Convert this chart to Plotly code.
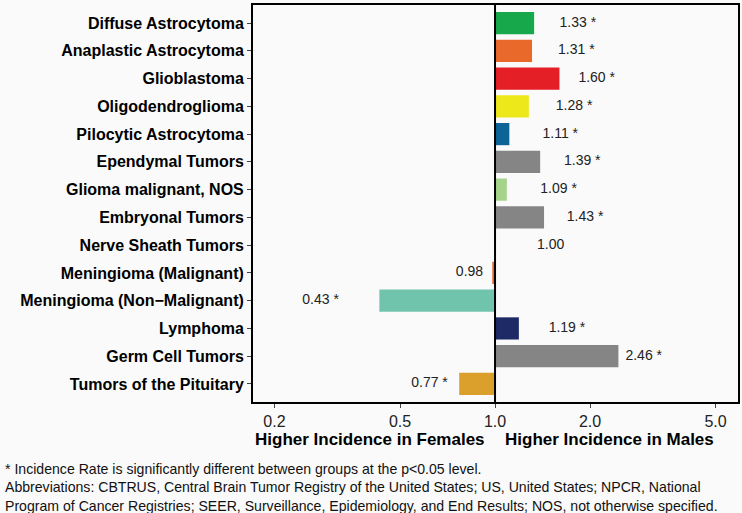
import plotly.graph_objects as go

categories = ["Diffuse Astrocytoma", "Anaplastic Astrocytoma", "Glioblastoma",
              "Oligodendroglioma", "Pilocytic Astrocytoma", "Ependymal Tumors",
              "Glioma malignant, NOS", "Embryonal Tumors", "Nerve Sheath Tumors",
              "Meningioma (Malignant)", "Meningioma (Non\u2212Malignant)", "Lymphoma",
              "Germ Cell Tumors", "Tumors of the Pituitary"]
ratios = [1.33, 1.31, 1.60, 1.28, 1.11, 1.39, 1.09, 1.43, 1.00, 0.98, 0.43, 1.19, 2.46, 0.77]
significant = [True, True, True, True, True, True, True, True, False, False, True, True, True, True]
colors = ["#17a84b", "#e8692a", "#e41f26", "#ece81a", "#0b6396", "#858585", "#a5d38a",
          "#858585", "#858585", "#e8692a", "#6fc4ab", "#1d2a66", "#858585", "#dba02b"]
tick_vals = [0.2, 0.5, 1.0, 2.0, 5.0]
tick_text = ["0.2", "0.5", "1.0", "2.0", "5.0"]

FONT = "Liberation Sans, Arial, sans-serif"
W, H = 742, 513
ML, MR, MT, MB = 253, 4, 5, 111
PW, PH = W - ML - MR, H - MT - MB

labels = [f"{v:.2f} *" if s else f"{v:.2f}" for v, s in zip(ratios, significant)]
label_x = [v + 0.5 if v >= 1 else v - 0.15 for v in ratios]

fig = go.Figure()
fig.add_trace(go.Bar(
    y=categories, x=[v - 1 for v in ratios], base=[1] * len(ratios),
    orientation="h", marker=dict(color=colors, line=dict(width=0)),
    width=0.8, hoverinfo="skip", showlegend=False))
fig.add_trace(go.Scatter(
    y=categories, x=label_x, mode="text", text=labels,
    textposition="middle center", textfont=dict(family=FONT, size=14, color="#222222"),
    hoverinfo="skip", showlegend=False))

fig.add_shape(type="line", xref="x", yref="paper", x0=1, x1=1, y0=0, y1=1,
              line=dict(color="black", width=2))

def py(pix):
    return (H - MB - pix) / PH

def px(pix):
    return (pix - ML) / PW

annotations = [
    dict(text="<b>Higher Incidence in Females</b>", xref="x", x=0, xanchor="right", xshift=-8,
         yref="paper", y=py(440), yanchor="middle", showarrow=False,
         font=dict(family=FONT, size=17, color="black")),
    dict(text="<b>Higher Incidence in Males</b>", xref="x", x=0, xanchor="left", xshift=8,
         yref="paper", y=py(440), yanchor="middle", showarrow=False,
         font=dict(family=FONT, size=17, color="black")),
]
foot = ["* Incidence Rate is significantly different between groups at the p<0.05 level.",
        "Abbreviations: CBTRUS, Central Brain Tumor Registry of the United States; US, United States; NPCR, National",
        "Program of Cancer Registries; SEER, Surveillance, Epidemiology, and End Results; NOS, not otherwise specified."]
for t, yy in zip(foot, [468.5, 487, 505.5]):
    annotations.append(dict(text=t, xref="paper", x=px(3), xanchor="left", yref="paper",
                            y=py(yy), yanchor="middle", showarrow=False,
                            font=dict(family=FONT, size=14.1, color="#111111")))

fig.update_layout(
    width=W, height=H, margin=dict(l=ML, r=MR, t=MT, b=MB),
    paper_bgcolor="#fafafa", plot_bgcolor="#fafafa",
    bargap=0.2, annotations=annotations,
    xaxis=dict(type="log", range=[-0.767, 0.77], tickvals=tick_vals, ticktext=tick_text,
               showgrid=False, zeroline=False, showline=True, mirror=True, automargin=False,
               linecolor="black", linewidth=2, ticks="outside", ticklen=4,
               tickcolor="#444", tickfont=dict(family=FONT, size=16, color="#222")),
    yaxis=dict(categoryorder="array", categoryarray=categories, range=[13.65, -0.65],
               showgrid=False, zeroline=False, showline=True, mirror=True, automargin=False,
               linecolor="black", linewidth=2, ticks="outside", ticklen=4,
               tickcolor="#444",
               tickfont=dict(family=FONT, size=16, color="black", weight="bold")),
)

fig.write_html("out.html", config={"displayModeBar": False},
               post_script="document.body.style.margin='0';document.body.style.background='#fafafa';")
